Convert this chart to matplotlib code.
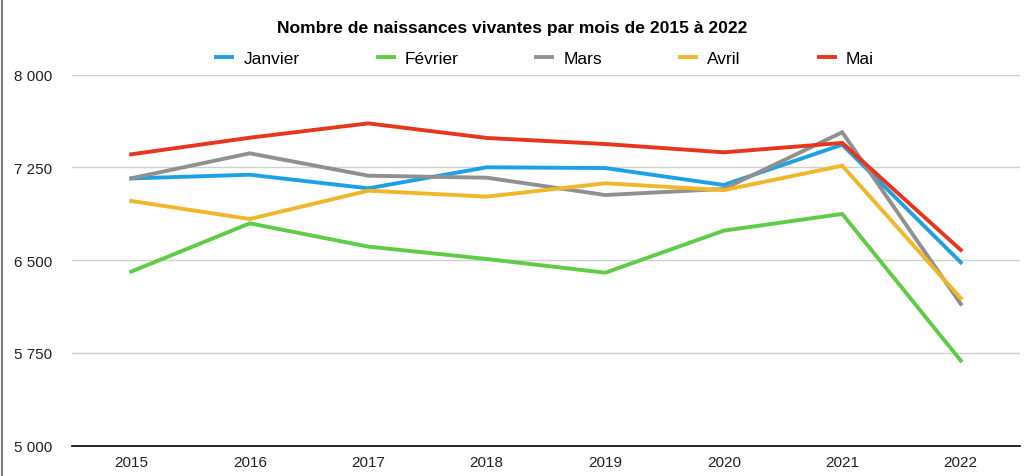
import matplotlib.pyplot as plt
from matplotlib.lines import Line2D
from matplotlib.ticker import FuncFormatter

plt.rcParams['font.family'] = ['Liberation Sans', 'DejaVu Sans']

annees = ['2015', '2016', '2017', '2018', '2019', '2020', '2021', '2022']
janvier = [7160, 7190, 7080, 7250, 7244, 7107, 7433, 6482]
fevrier = [6407, 6797, 6609, 6509, 6398, 6738, 6873, 5688]
mars = [7161, 7363, 7182, 7166, 7026, 7075, 7533, 6146]
avril = [6978, 6832, 7061, 7013, 7121, 7065, 7263, 6192]
mai = [7355, 7489, 7605, 7487, 7438, 7371, 7447, 6582]

series = [
    ('Janvier', janvier, '#1da1e6'),
    ('Février', fevrier, '#5fcc45'),
    ('Mars', mars, '#909090'),
    ('Avril', avril, '#f0b72a'),
    ('Mai', mai, '#e8361e'),
]

fig = plt.figure(figsize=(10.24, 4.77), dpi=100)
ax = fig.add_axes([72 / 1024, 1 - 446.7 / 477, 948 / 1024, (446.7 - 75.5) / 477])

x = range(len(annees))
for nom, vals, coul in series:
    ax.plot(x, vals, color=coul, lw=2.8, label=nom, solid_joinstyle='miter')

ax.set_xlim(-0.5, len(annees) - 0.5)
ax.set_ylim(5000, 8000)
ax.set_yticks([5000, 5750, 6500, 7250, 8000])
ax.yaxis.set_major_formatter(FuncFormatter(lambda v, p: f'{int(v):,}'.replace(',', ' ')))
ax.set_xticks(list(x))
ax.set_xticklabels(annees)
ax.grid(axis='y', color='#d0d0d0', lw=1)
ax.set_axisbelow(True)
for s in ['top', 'right', 'left']:
    ax.spines[s].set_visible(False)
ax.spines['bottom'].set_color('black')
ax.spines['bottom'].set_linewidth(1.2)
ax.tick_params(axis='both', length=0, labelsize=11, colors='#222222')
ax.tick_params(axis='y', pad=14.5)
ax.tick_params(axis='x', pad=7)

fig.suptitle('Nombre de naissances vivantes par mois de 2015 à 2022',
             x=0.5, y=1 - 28 / 477, va='center', fontsize=12.6, fontweight='bold')
fig.legend(*ax.get_legend_handles_labels(), loc='center', ncol=5,
           bbox_to_anchor=(545 / 1024, 1 - 59.5 / 477), frameon=False, fontsize=12.5,
           handlelength=0.92, handletextpad=0.63, columnspacing=4.5)

fig.add_artist(Line2D([2 / 1024, 2 / 1024], [0, 1], color='#7a7a7a', lw=1.5))

fig.savefig('out.png', dpi=100)
